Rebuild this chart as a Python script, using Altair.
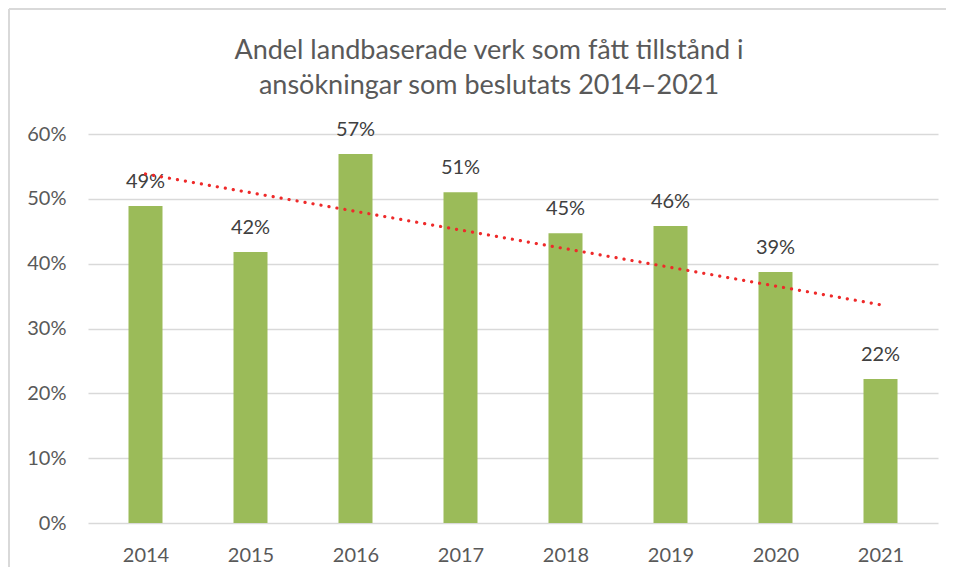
import altair as alt
import pandas as pd

years = [2014, 2015, 2016, 2017, 2018, 2019, 2020, 2021]
shares = [0.489, 0.418, 0.569, 0.510, 0.447, 0.458, 0.387, 0.222]
y_ticks = [0, 0.1, 0.2, 0.3, 0.4, 0.5, 0.6]
title_lines = ["Andel landbaserade verk som fått tillstånd i", "ansökningar som beslutats 2014–2021"]

FONT = "Lato"
df = pd.DataFrame({"year": years, "share": shares})

x = alt.X("year:Q", scale=alt.Scale(domain=[2013.5, 2021.5], nice=False, zero=False),
          axis=alt.Axis(values=years, format="d", grid=False, ticks=False, domain=False,
                        labelFontSize=20, labelColor="#595959", labelPadding=22, labelFont=FONT,
                        title=None))
y = alt.Y("share:Q", scale=alt.Scale(domain=[0, 0.6], nice=False),
          axis=alt.Axis(values=y_ticks, format=".0%", grid=True, gridColor="#D9D9D9", gridWidth=1.5,
                        ticks=False, domain=False, labelFontSize=20, labelColor="#595959",
                        labelPadding=22, labelFont=FONT, title=None))

base = alt.Chart(df)
bars = base.mark_bar(size=34, color="#9BBB59").encode(x=x, y=y)
labels = base.mark_text(baseline="alphabetic", dy=-18, fontSize=20, color="#404040", font=FONT).encode(
    x="year:Q", y="share:Q", text=alt.Text("share:Q", format=".0%"))
trend = base.transform_regression("year", "share", method="linear").mark_line(
    color="#EE2A2A", strokeDash=[0.1, 8], strokeCap="round", strokeWidth=3.2).encode(
    x="year:Q", y="share:Q")

frame_top = base.mark_rule(color="#D9D9D9", strokeWidth=1.5).encode(
    x=alt.value(-79), x2=alt.value(870), y=alt.value(-125))
frame_left = base.mark_rule(color="#D9D9D9", strokeWidth=1.5).encode(
    x=alt.value(-79), y=alt.value(-125), y2=alt.value(440))

title_marks = [
    alt.Chart(pd.DataFrame({"t": [line]})).mark_text(
        fontSize=27, font=FONT, color="#595959", align="center", baseline="alphabetic").encode(
        x=alt.value(401), y=alt.value(yy), text="t:N")
    for line, yy in zip(title_lines, [-75, -40])
]

chart = alt.layer(bars, labels, trend, frame_top, frame_left, *title_marks).properties(
    width=850, height=389,
    padding={"left": 80, "top": 126, "right": 8, "bottom": 44},
    autosize="none",
).configure_view(stroke=None)

chart.save("out.html", embed_options={"renderer": "svg", "actions": False})
